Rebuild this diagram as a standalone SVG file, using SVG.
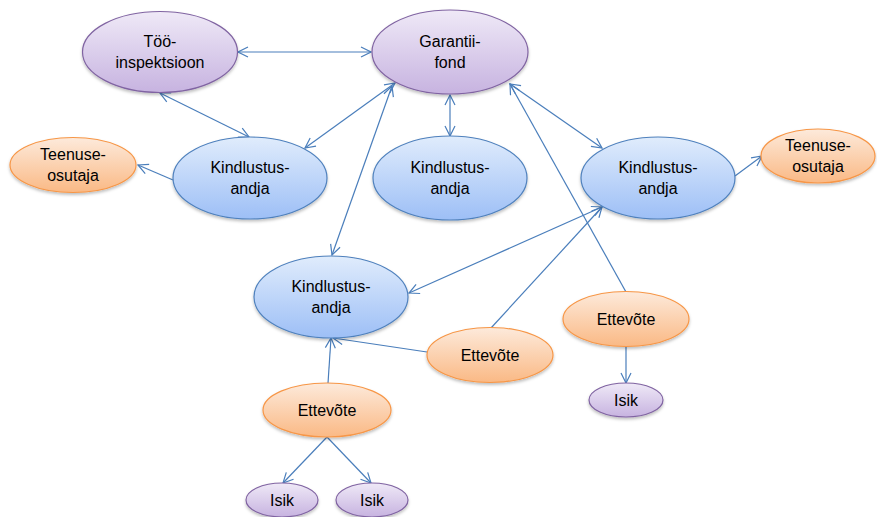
<svg xmlns="http://www.w3.org/2000/svg" width="877" height="517" viewBox="0 0 877 517">
<defs>
<linearGradient id="gP" x1="0" y1="0" x2="0" y2="1"><stop offset="0" stop-color="#efe9f7"/><stop offset="1" stop-color="#c7b3e0"/></linearGradient>
<linearGradient id="gB" x1="0" y1="0" x2="0" y2="1"><stop offset="0" stop-color="#e0ecfc"/><stop offset="1" stop-color="#9dbff6"/></linearGradient>
<linearGradient id="gO" x1="0" y1="0" x2="0" y2="1"><stop offset="0" stop-color="#fdeadb"/><stop offset="1" stop-color="#fab985"/></linearGradient>
<filter id="sh" x="-20%" y="-20%" width="140%" height="150%"><feDropShadow dx="0" dy="2" stdDeviation="1.5" flood-color="#000" flood-opacity="0.25"/></filter>
<marker id="a" viewBox="0 0 12 12" refX="11" refY="6" markerWidth="12" markerHeight="12" markerUnits="userSpaceOnUse" orient="auto-start-reverse">
<path d="M1,1 L11,6 L1,11" fill="none" stroke="#4a7ebb" stroke-width="1.2"/>
</marker>
<style>
.p{fill:url(#gP);stroke:#8064a2;stroke-width:1.2;filter:url(#sh)}
.b{fill:url(#gB);stroke:#4f81bd;stroke-width:1.2;filter:url(#sh)}
.o{fill:url(#gO);stroke:#f79646;stroke-width:1.2;filter:url(#sh)}
text{font-family:"Liberation Sans",Arial,sans-serif;font-size:16px;fill:#000;text-anchor:middle}
.c line{stroke:#4a7ebb;stroke-width:1.2;fill:none}
</style>
</defs>
<rect width="877" height="517" fill="#fff"/>
<g class="c" id="connectors">
<line x1="238" y1="52" x2="371" y2="52" marker-start="url(#a)" marker-end="url(#a)"/>
<line x1="160" y1="93" x2="249" y2="137" marker-start="url(#a)" marker-end="url(#a)"/>
<line x1="395" y1="83" x2="305" y2="148" marker-start="url(#a)" marker-end="url(#a)"/>
<line x1="450" y1="95" x2="450" y2="136" marker-start="url(#a)" marker-end="url(#a)"/>
<line x1="392" y1="86" x2="332" y2="255" marker-start="url(#a)" marker-end="url(#a)"/>
<line x1="510" y1="84" x2="602" y2="148" marker-start="url(#a)" marker-end="url(#a)"/>
<line x1="173" y1="180" x2="138" y2="165" marker-end="url(#a)"/>
<line x1="735" y1="176" x2="762" y2="156" marker-end="url(#a)"/>
<line x1="602" y1="207" x2="409" y2="293" marker-start="url(#a)" marker-end="url(#a)"/>
<line x1="491" y1="328" x2="602" y2="207" marker-end="url(#a)"/>
<line x1="427" y1="352" x2="333" y2="338" marker-end="url(#a)"/>
<line x1="626" y1="292" x2="510" y2="84" marker-end="url(#a)"/>
<line x1="626" y1="347" x2="626" y2="383" marker-end="url(#a)"/>
<line x1="328" y1="383" x2="331" y2="338" marker-end="url(#a)"/>
<line x1="327" y1="437" x2="283" y2="483" marker-end="url(#a)"/>
<line x1="327" y1="437" x2="371" y2="483" marker-end="url(#a)"/>
</g>
<g id="tooinspektsioon"><ellipse class="p" cx="160" cy="52" rx="77.5" ry="40.5"/><text x="160" y="47">Töö-</text><text x="160" y="68">inspektsioon</text></g>
<g id="garantiifond"><ellipse class="p" cx="450" cy="52" rx="78" ry="42"/><text x="450" y="47">Garantii-</text><text x="450" y="68">fond</text></g>
<g id="kindlustus1"><ellipse class="b" cx="250" cy="178" rx="77" ry="41"/><text x="250" y="173">Kindlustus-</text><text x="250" y="194">andja</text></g>
<g id="kindlustus2"><ellipse class="b" cx="450" cy="178" rx="77" ry="42"/><text x="450" y="173">Kindlustus-</text><text x="450" y="194">andja</text></g>
<g id="kindlustus3"><ellipse class="b" cx="658" cy="178" rx="77" ry="41"/><text x="658" y="173">Kindlustus-</text><text x="658" y="194">andja</text></g>
<g id="kindlustus4"><ellipse class="b" cx="331" cy="297" rx="77" ry="41"/><text x="331" y="292">Kindlustus-</text><text x="331" y="313">andja</text></g>
<g id="teenuse1"><ellipse class="o" cx="73" cy="165" rx="63" ry="27.5"/><text x="73" y="160">Teenuse-</text><text x="73" y="181">osutaja</text></g>
<g id="teenuse2"><ellipse class="o" cx="818" cy="156" rx="57" ry="27"/><text x="818" y="151">Teenuse-</text><text x="818" y="172">osutaja</text></g>
<g id="ettevote1"><ellipse class="o" cx="490" cy="355" rx="63" ry="27.5"/><text x="490" y="361">Ettevõte</text></g>
<g id="ettevote2"><ellipse class="o" cx="626" cy="319" rx="63" ry="27.5"/><text x="626" y="325">Ettevõte</text></g>
<g id="ettevote3"><ellipse class="o" cx="327" cy="410" rx="64" ry="27"/><text x="327" y="416">Ettevõte</text></g>
<g id="isik1"><ellipse class="p" cx="626" cy="400" rx="37" ry="17"/><text x="626" y="406">Isik</text></g>
<g id="isik2"><ellipse class="p" cx="282" cy="500" rx="36" ry="17"/><text x="282" y="506">Isik</text></g>
<g id="isik3"><ellipse class="p" cx="372" cy="500" rx="36" ry="17"/><text x="372" y="506">Isik</text></g>
</svg>
